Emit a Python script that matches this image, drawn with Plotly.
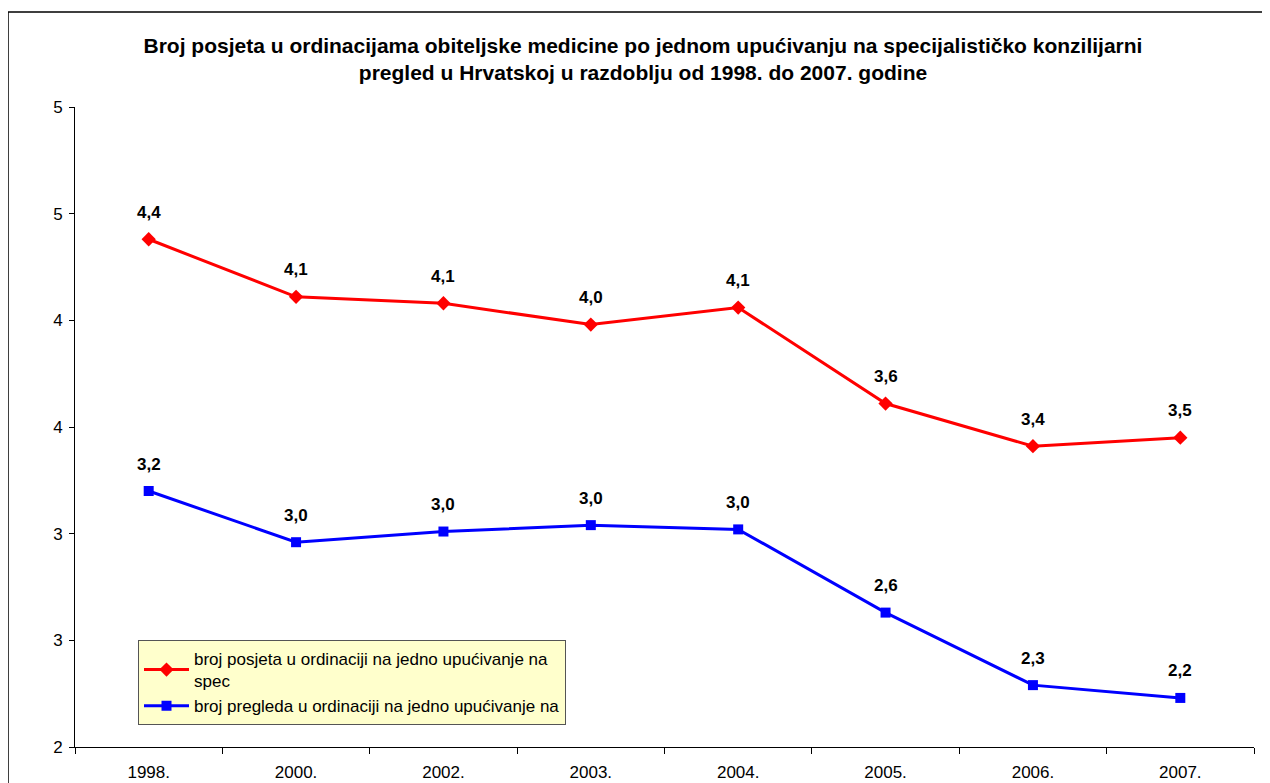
import plotly.graph_objects as go

years = ["1998.", "2000.", "2002.", "2003.", "2004.", "2005.", "2006.", "2007."]
posjete = [4.38, 4.11, 4.08, 3.98, 4.06, 3.61, 3.41, 3.45]
pregledi = [3.20, 2.96, 3.01, 3.04, 3.02, 2.63, 2.29, 2.23]
posjete_name = "broj posjeta u ordinaciji na jedno upućivanje na<br>spec"
pregledi_name = "broj pregleda u ordinaciji na jedno upućivanje na"
y_ticks = [2, 2.5, 3, 3.5, 4, 4.5, 5]
y_tick_text = ["2", "3", "3", "4", "4", "5", "5"]

title = ("<b>Broj posjeta u ordinacijama obiteljske medicine po jednom upućivanju na specijalističko konzilijarni<br>"
         "pregled u Hrvatskoj u razdoblju od 1998. do 2007. godine</b>")


def fmt(v):
    return f"{v:.1f}".replace(".", ",")


fig = go.Figure()
fig.add_trace(go.Scatter(
    x=years, y=posjete, name=posjete_name, mode="lines+markers",
    line=dict(color="#FF0000", width=3),
    marker=dict(symbol="diamond", size=11, color="#FF0000"),
))
fig.add_trace(go.Scatter(
    x=years, y=pregledi, name=pregledi_name, mode="lines+markers",
    line=dict(color="#0000FF", width=3),
    marker=dict(symbol="square", size=10, color="#0000FF"),
))

# data labels above each point
for series in (posjete, pregledi):
    for i, v in enumerate(series):
        fig.add_annotation(x=i, y=v, xref="x", yref="y", text=f"<b>{fmt(v)}</b>",
                           showarrow=False, yshift=27, font=dict(size=17, color="black"))

# outer chart border (Excel chart area)
fig.add_shape(type="rect", xref="paper", yref="paper",
              x0=(8 - 75) / 1179, x1=(1290 - 75) / 1179,
              y0=(747 - 800) / 640, y1=(747 - 12) / 640,
              line=dict(color="black", width=1.5), fillcolor="rgba(0,0,0,0)", layer="below")

fig.update_layout(
    width=1270, height=783,
    margin=dict(l=67, r=24, t=99, b=44),
    paper_bgcolor="white", plot_bgcolor="white",
    font=dict(family="Arial, Liberation Sans, sans-serif", size=17, color="black"),
    title=dict(text=title, x=0.5, xanchor="center", y=0.943, yanchor="top",
               font=dict(size=21, color="black")),
    showlegend=True,
    legend=dict(x=(138 - 75) / 1179, y=(747 - 640) / 640, xanchor="left", yanchor="top",
                bgcolor="#FFFFCC", bordercolor="#555555", borderwidth=1,
                font=dict(size=17), tracegroupgap=0, itemwidth=45),
)
fig.update_xaxes(type="category", range=[-0.5, 7.5], showline=True, linecolor="black", linewidth=1,
                 ticks="outside", ticklen=6, tickcolor="black", tickson="boundaries",
                 showgrid=False, tickfont=dict(size=17), ticklabelstandoff=10, automargin=False)
fig.update_yaxes(range=[2, 5], tickvals=y_ticks, ticktext=y_tick_text, showline=True,
                 linecolor="black", linewidth=1, ticks="outside", ticklen=5, tickcolor="black",
                 showgrid=False, zeroline=False, tickfont=dict(size=17), ticklabelstandoff=3,
                 automargin=False)

fig.write_html("out.html")
